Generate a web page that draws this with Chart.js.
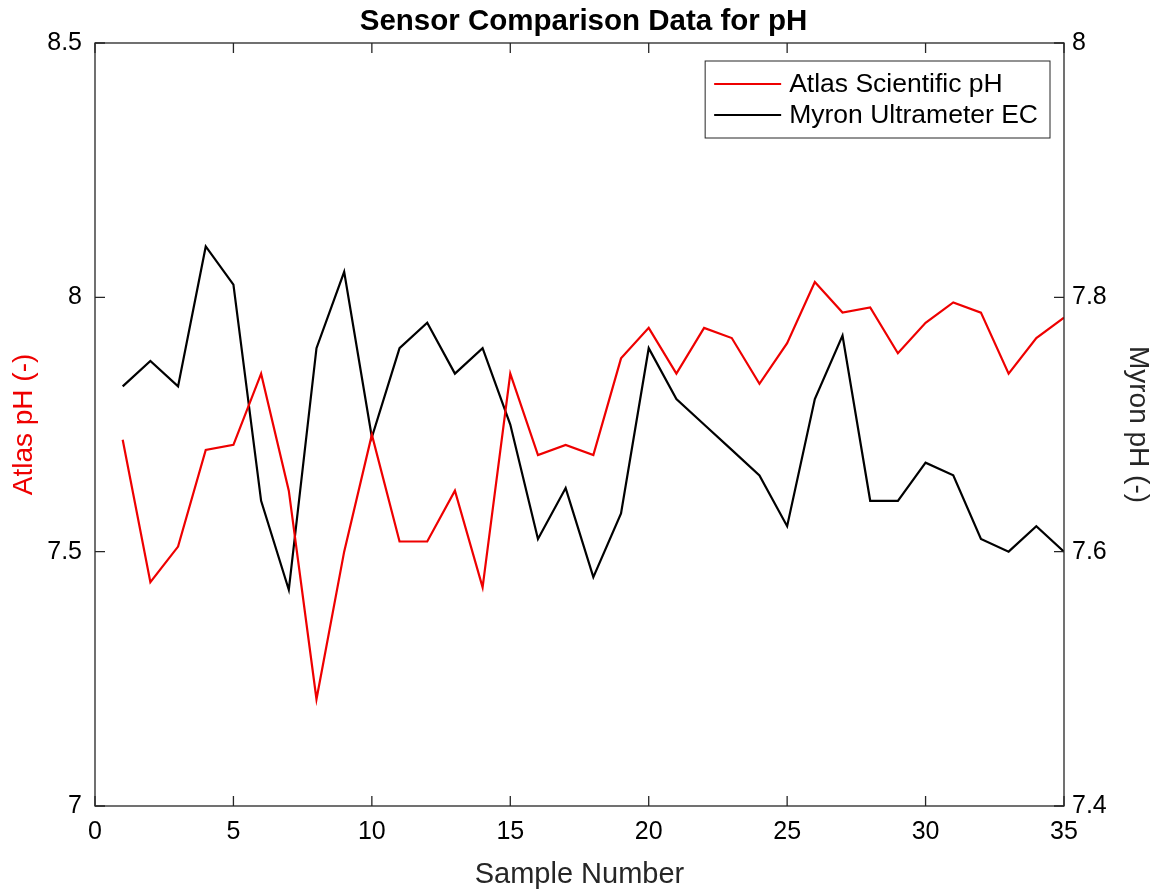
<!DOCTYPE html>
<html>
<head>
<meta charset="utf-8">
<title>Sensor Comparison Data for pH</title>
<script src="https://cdn.jsdelivr.net/npm/chart.js@4/dist/chart.umd.min.js"></script>
<style>
  html, body { margin: 0; padding: 0; background: #fff; }
  canvas { display: block; }
</style>
</head>
<body>
<canvas id="chart" width="1167" height="892"></canvas>
<script>
// Sample index for each reading
const sampleNumbers = [1, 2, 3, 4, 5, 6, 7, 8, 9, 10, 11, 12, 13, 14, 15, 16, 17, 18,
  19, 20, 21, 22, 23, 24, 25, 26, 27, 28, 29, 30, 31, 32, 33, 34, 35];

// Atlas Scientific pH probe readings (left axis)
const atlasPH = [7.72, 7.44, 7.51, 7.70, 7.71, 7.85, 7.62, 7.21, 7.50, 7.73, 7.52, 7.52,
  7.62, 7.43, 7.85, 7.69, 7.71, 7.69, 7.88, 7.94, 7.85, 7.94, 7.92, 7.83, 7.91, 8.03,
  7.97, 7.98, 7.89, 7.95, 7.99, 7.97, 7.85, 7.92, 7.96];

// Myron Ultrameter readings (right axis)
const myronPH = [7.73, 7.75, 7.73, 7.84, 7.81, 7.64, 7.57, 7.76, 7.82, 7.69, 7.76, 7.78,
  7.74, 7.76, 7.70, 7.61, 7.65, 7.58, 7.63, 7.76, 7.72, 7.70, 7.68, 7.66, 7.62, 7.72,
  7.77, 7.64, 7.64, 7.67, 7.66, 7.61, 7.60, 7.62, 7.60];

// Tick values
const xTicks = [0, 5, 10, 15, 20, 25, 30, 35];
const leftTicks = [7, 7.5, 8, 8.5];
const rightTicks = [7.4, 7.6, 7.8, 8];

const FONT = "'Liberation Sans', Arial, Helvetica, sans-serif";
const AXIS_COLOR = '#262626';

const toPoints = (ys) => sampleNumbers.map((x, i) => ({ x, y: ys[i] }));
const fixTicks = (values) => (scale) => { scale.ticks = values.map(v => ({ value: v })); };

// Box around the plot area with inward-pointing tick marks on every side
const boxAndTicks = {
  id: 'boxAndTicks',
  afterDatasetsDraw(chart) {
    const { ctx, chartArea: a, scales } = chart;
    const len = 10;
    ctx.save();
    ctx.strokeStyle = AXIS_COLOR;
    ctx.lineWidth = 1.3;
    ctx.beginPath();
    scales.x.ticks.forEach(t => {
      const px = scales.x.getPixelForValue(t.value);
      ctx.moveTo(px, a.bottom); ctx.lineTo(px, a.bottom - len);
      ctx.moveTo(px, a.top); ctx.lineTo(px, a.top + len);
    });
    scales.yL.ticks.forEach(t => {
      const py = scales.yL.getPixelForValue(t.value);
      ctx.moveTo(a.left, py); ctx.lineTo(a.left + len, py);
    });
    scales.yR.ticks.forEach(t => {
      const py = scales.yR.getPixelForValue(t.value);
      ctx.moveTo(a.right, py); ctx.lineTo(a.right - len, py);
    });
    ctx.stroke();
    ctx.strokeRect(a.left, a.top, a.right - a.left, a.bottom - a.top);
    ctx.restore();
  }
};

// Boxed legend in the upper-right corner of the plot area
const boxLegend = {
  id: 'boxLegend',
  afterDraw(chart) {
    const { ctx, chartArea: a } = chart;
    const sets = chart.data.datasets;
    ctx.save();
    ctx.font = '26.5px ' + FONT;
    const textW = Math.max(...sets.map(d => ctx.measureText(d.label).width));
    const lineStart = 9, lineLen = 67, textGap = 8, rowH = 31, padTop = 23, padRight = 12;
    const w = lineStart + lineLen + textGap + textW + padRight;
    const h = padTop * 2 + rowH * (sets.length - 1);
    const right = a.right - 14, top = a.top + 18, left = right - w;
    ctx.fillStyle = '#fff';
    ctx.fillRect(left, top, w, h);
    ctx.strokeStyle = AXIS_COLOR;
    ctx.lineWidth = 1;
    ctx.strokeRect(left, top, w, h);
    sets.forEach((d, i) => {
      const cy = top + padTop + i * rowH;
      ctx.strokeStyle = d.borderColor;
      ctx.lineWidth = 2;
      ctx.beginPath();
      ctx.moveTo(left + lineStart, cy);
      ctx.lineTo(left + lineStart + lineLen, cy);
      ctx.stroke();
      ctx.fillStyle = '#000';
      ctx.textBaseline = 'middle';
      ctx.textAlign = 'left';
      ctx.fillText(d.label, left + lineStart + lineLen + textGap, cy + 1);
    });
    ctx.restore();
  }
};

new Chart(document.getElementById('chart'), {
  type: 'line',
  data: {
    datasets: [
      {
        label: 'Atlas Scientific pH',
        data: toPoints(atlasPH),
        yAxisID: 'yL',
        borderColor: '#ee0000',
        borderWidth: 2.2,
        pointRadius: 0,
        tension: 0,
        fill: false
      },
      {
        label: 'Myron Ultrameter EC',
        data: toPoints(myronPH),
        yAxisID: 'yR',
        borderColor: '#000000',
        borderWidth: 2.2,
        pointRadius: 0,
        tension: 0,
        fill: false
      }
    ]
  },
  options: {
    responsive: false,
    animation: false,
    layout: { padding: 0 },
    plugins: {
      legend: { display: false },
      tooltip: { enabled: false },
      title: {
        display: true,
        text: 'Sensor Comparison Data for pH',
        color: '#000',
        font: { family: FONT, size: 29.5, weight: 'bold' },
        padding: { top: 4, bottom: 3.6 }
      }
    },
    scales: {
      x: {
        type: 'linear',
        min: 0,
        max: 35,
        afterBuildTicks: fixTicks(xTicks),
        afterFit: (s) => { s.height = 86; },
        grid: { display: false, drawTicks: false },
        border: { display: false },
        ticks: {
          color: '#000',
          font: { family: FONT, size: 25 },
          padding: 11,
          maxRotation: 0,
          callback: (v) => String(v)
        },
        title: {
          display: true,
          text: 'Sample Number',
          color: '#262626',
          font: { family: FONT, size: 29 },
          padding: { top: 7, bottom: 0 }
        }
      },
      yL: {
        type: 'linear',
        position: 'left',
        min: 7,
        max: 8.5,
        afterBuildTicks: fixTicks(leftTicks),
        afterFit: (s) => { s.width = 95; },
        grid: { display: false, drawTicks: false },
        border: { display: false },
        ticks: {
          color: '#000',
          font: { family: FONT, size: 25 },
          padding: 13,
          callback: (v) => String(v)
        },
        title: {
          display: true,
          text: 'Atlas pH (-)',
          color: '#ee0000',
          font: { family: FONT, size: 28 },
          padding: { top: 7, bottom: 0 }
        }
      },
      yR: {
        type: 'linear',
        position: 'right',
        min: 7.4,
        max: 8,
        afterBuildTicks: fixTicks(rightTicks),
        afterFit: (s) => { s.width = 103; },
        grid: { display: false, drawTicks: false },
        border: { display: false },
        ticks: {
          color: '#000',
          font: { family: FONT, size: 25 },
          padding: 8,
          callback: (v) => String(v)
        },
        title: {
          display: true,
          text: 'Myron pH (-)',
          color: '#262626',
          font: { family: FONT, size: 28 },
          padding: { top: 12, bottom: 0 }
        }
      }
    }
  },
  plugins: [boxAndTicks, boxLegend]
});
</script>
</body>
</html>
